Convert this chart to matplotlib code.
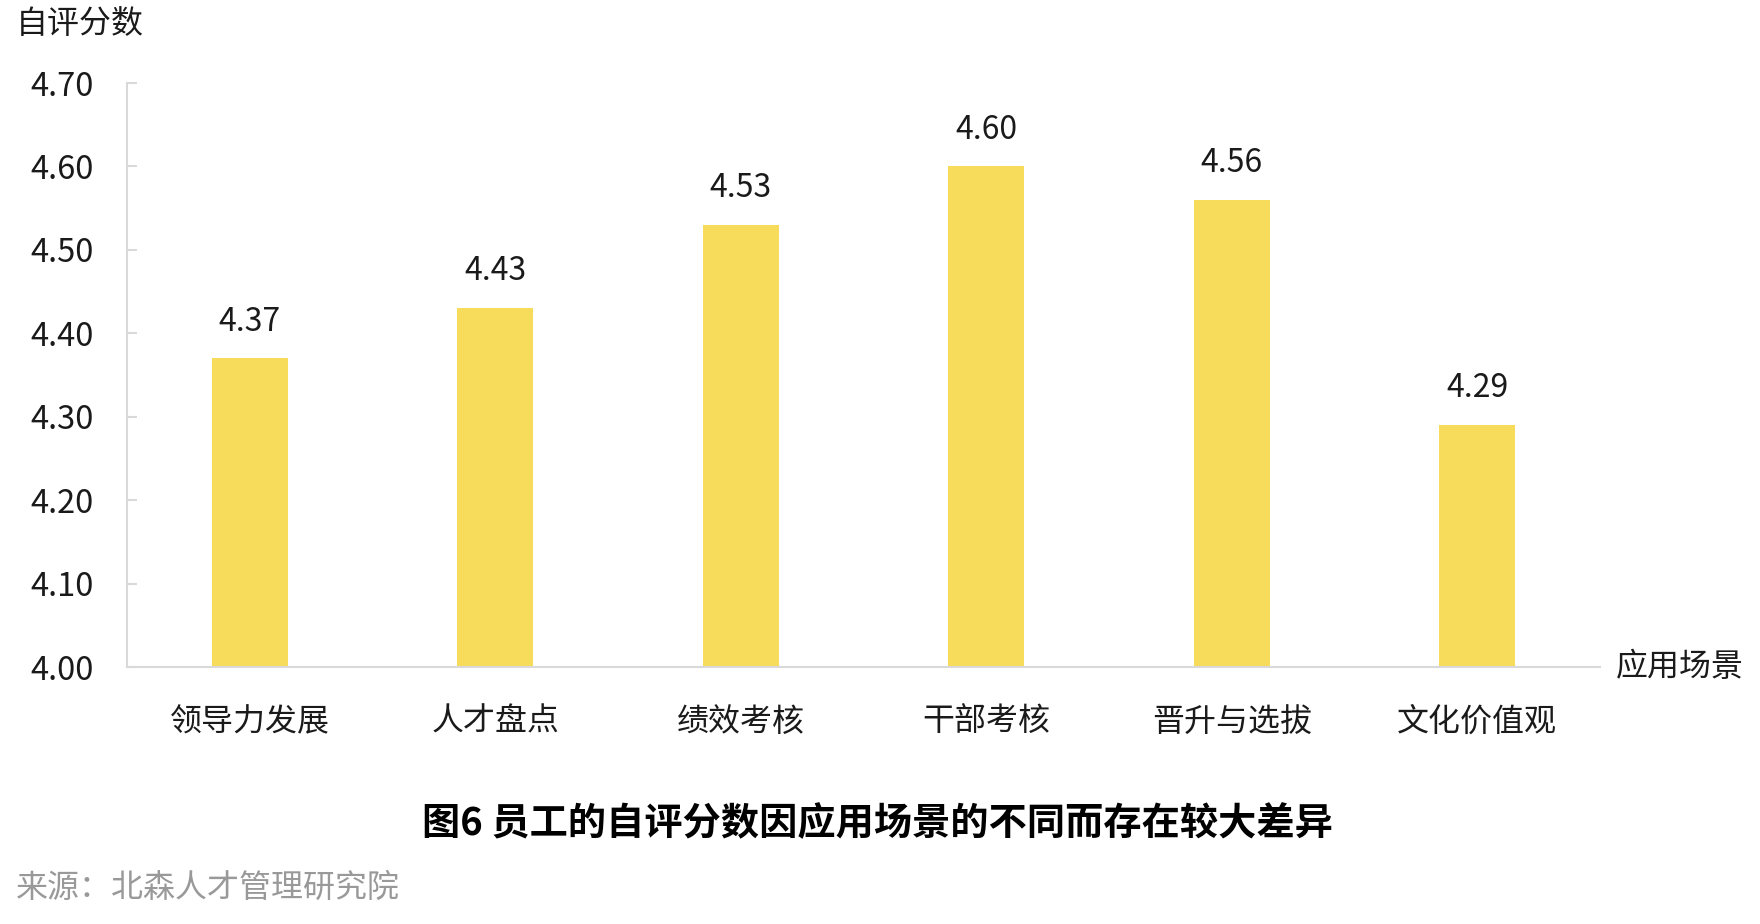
import matplotlib
matplotlib.use("Agg")
import matplotlib.pyplot as plt

plt.rcParams['font.family'] = ['Noto Sans CJK SC', 'DejaVu Sans']

categories = ['领导力发展', '人才盘点', '绩效考核', '干部考核', '晋升与选拔', '文化价值观']
values = [4.37, 4.43, 4.53, 4.60, 4.56, 4.29]
yticks = [4.00, 4.10, 4.20, 4.30, 4.40, 4.50, 4.60, 4.70]

bar_color = '#F6DC5A'
spine_color = '#D9D9D9'

fig = plt.figure(figsize=(17.6, 9.24), dpi=100)
ax = fig.add_axes([127/1760, 257/924, (1600-127)/1760, (841-257)/924])

x = list(range(len(categories)))
bars = ax.bar(x, values, width=0.31, color=bar_color, zorder=2)

ax.set_xlim(-0.5, len(categories) - 0.5)
ax.set_ylim(4.0, 4.70)
ax.set_yticks(yticks)
ax.set_yticklabels([f'{v:.2f}' for v in yticks])
ax.set_xticks(x)
ax.set_xticklabels(categories)

for s in ['top', 'right']:
    ax.spines[s].set_visible(False)
for s in ['left', 'bottom']:
    ax.spines[s].set_color(spine_color)
    ax.spines[s].set_linewidth(1.5)

ax.tick_params(axis='y', direction='in', length=7.5, width=1.5, color=spine_color,
               labelsize=23.5, pad=24, labelcolor='#1a1a1a')
ax.tick_params(axis='x', length=0, labelsize=23, pad=28, labelcolor='#1a1a1a')

for xi, v in zip(x, values):
    ax.annotate(f'{v:.2f}', (xi, v), xytext=(0, 26.5), textcoords='offset points',
                ha='center', va='center', fontsize=23, color='#1a1a1a')

fig.text(16/1760, 1 - 24/924, '自评分数', fontsize=23, ha='left', va='center', color='#1a1a1a')
fig.text(1616/1760, 257/924, '应用场景', fontsize=23, ha='left', va='center', color='#1a1a1a')
fig.text(0.4985, 1 - 824/924, '图6 员工的自评分数因应用场景的不同而存在较大差异', fontsize=27.5,
         fontweight='bold', ha='center', va='center', color='#000000')
fig.text(16/1760, 1 - 888/924, '来源：北森人才管理研究院', fontsize=23, ha='left', va='center',
         color='#999999')

fig.savefig('out.png', dpi=100, facecolor='white')
